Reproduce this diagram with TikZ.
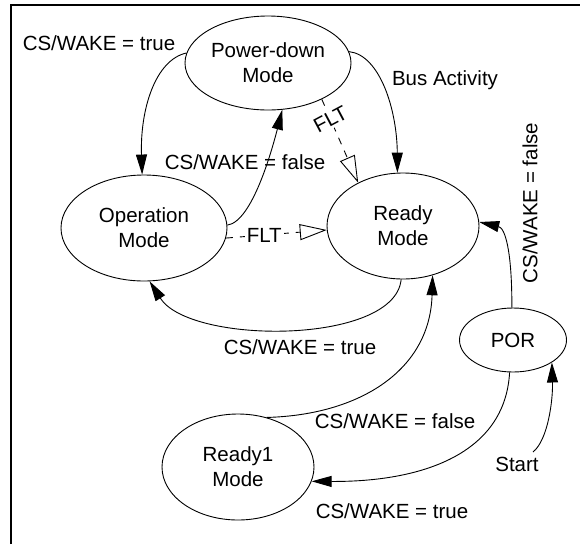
\documentclass[tikz,border=0pt]{standalone}
\usepackage{fontspec}
\setmainfont{Liberation Sans}
\usetikzlibrary{arrows.meta,shapes.geometric}
\begin{document}
\begin{tikzpicture}[x=1pt,y=-1pt,
  every node/.style={font=\fontsize{20.5}{25}\selectfont, inner sep=0pt},
  state/.style={draw, ellipse, line width=0.9pt, align=center},
  trans/.style={line width=0.9pt, -{Triangle[length=20pt,width=11pt]}},
  flt/.style={line width=0.9pt, dash pattern=on 7pt off 7pt, -{Triangle[open,length=27pt,width=16pt,line width=0.9pt]}},
  lbl/.style={anchor=center}]
\useasboundingbox (0,0) rectangle (580,544);
\draw[line width=2.2pt] (11,544) -- (11,5) -- (580,5);

\node[state, minimum width=166pt, minimum height=94pt] (pd) at (268,63) {Power-down\\Mode};
\node[state, minimum width=166pt, minimum height=106pt] (op) at (144,228) {Operation\\Mode};
\node[state, minimum width=152pt, minimum height=106pt] (rd) at (403,226) {Ready\\Mode};
\node[state, minimum width=107pt, minimum height=64pt] (por) at (513,340) {POR};
\node[state, minimum width=152pt, minimum height=106pt] (r1) at (238,467) {Ready1\\Mode};

% labels
\node[lbl] (l1) at (99,43) {CS/WAKE = true};
\node[lbl] (l2) at (245,162) {CS/WAKE = false};
\node[lbl] (l3) at (445,80) {Bus Activity};
\node[lbl] (l4) at (300,347) {CS/WAKE = true};
\node[lbl] (l5) at (395,421) {CS/WAKE = false};
\node[lbl] (l6) at (392,511) {CS/WAKE = true};
\node[lbl, rotate=90] (l7) at (530,203) {CS/WAKE = false};
\node[lbl] (start) at (517,464) {Start};
\coordinate (s0) at (533,452);

% transitions
\draw[trans] (pd.173) .. controls (155,60) and (140,110) .. (op.92);
\draw[trans] (op.2) .. controls (252,222) and (272,150) .. (pd.-73);
\draw[trans] (pd.8) .. controls (380,55) and (397,110) .. (rd.96);
\draw[trans] (rd.-92) .. controls (395,345) and (190,345) .. (op.-84);
\draw[trans] (r1.60) .. controls (360,415) and (430,370) .. (rd.-59);
\draw[trans] (por.-96) .. controls (505,455) and (420,482) .. (r1.-11);
\draw[trans] (s0) .. controls (548,440) and (553,400) .. (por.-30);
\draw[trans] (por.92) .. controls (512,250) and (505,228) .. (rd.3);

% fault transitions
\draw[flt] (pd.-34) -- node[pos=0.24, fill=white, rotate=28, inner sep=2pt] (f1) {FLT} (rd.136);
\draw[flt] (op.-7) -- node[pos=0.38, fill=white, inner sep=2pt] (f2) {FLT} (rd.183);
\end{tikzpicture}
\end{document}
